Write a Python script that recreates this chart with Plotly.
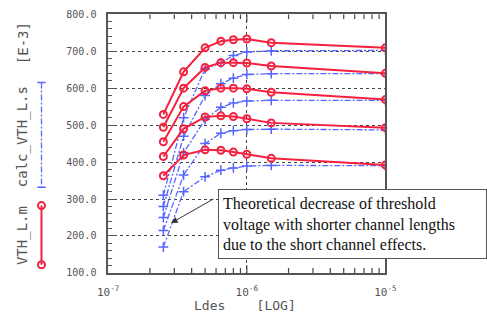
import plotly.graph_objects as go

W, H = 487, 323

# ---------------- data ----------------
L_um = [0.25, 0.35, 0.5, 0.65, 0.8, 1.0, 1.5, 10.0]
Lm = [v * 1e-6 for v in L_um]

meas_1 = [529, 644, 709, 727, 731, 733, 723, 709]
meas_2 = [494, 600, 656, 669, 669, 668, 660, 640]
meas_3 = [455, 550, 593, 600, 600, 598, 589, 569]
meas_4 = [415, 490, 522, 525, 523, 517, 506, 493]
meas_5 = [363, 419, 433, 432, 427, 421, 410, 392]

calc_1 = [310, 520, 652, 669, 688, 698, 701, 702]
calc_2 = [280, 470, 580, 612, 627, 637, 639, 639]
calc_3 = [250, 425, 515, 548, 560, 565, 567, 567]
calc_4 = [215, 365, 450, 478, 485, 488, 489, 487]
calc_5 = [170, 320, 360, 378, 384, 389, 391, 390]

meas = [meas_1, meas_2, meas_3, meas_4, meas_5]
calc = [calc_1, calc_2, calc_3, calc_4, calc_5]

y_ticks = [100, 200, 300, 400, 500, 600, 700, 800]
x_ticks = [1e-7, 1e-6, 1e-5]
x_ticktext = ["10<sup>-7</sup>", "10<sup>-6</sup>", "10<sup>-5</sup>"]
x_minor = [k * 10.0 ** e for e in (-7, -6) for k in range(2, 10)]

RED = "#f5213f"
BLUE = "#5566ff"
GRAY = "#555555"

# plot area in pixels
PX0, PX1, PY0, PY1 = 102, 393, 9.5, 276.5
Y_MIN, Y_MAX = 100, 800
UNITS_PER_PX = (Y_MAX - Y_MIN) / (PY1 - PY0)

fig = go.Figure()

# x-axis tick marks (bottom and top, pointing inward) drawn through the axes' scales
def tick_segments(vals, length_px):
    xs, ys = [], []
    d = length_px * UNITS_PER_PX
    for v in vals:
        xs += [v, v, None, v, v, None]
        ys += [Y_MIN, Y_MIN + d, None, Y_MAX, Y_MAX - d, None]
    return xs, ys

for vals, ln in [(x_minor, 5), (x_ticks[1:-1], 8)]:
    tx, ty = tick_segments(vals, ln)
    fig.add_trace(go.Scatter(x=tx, y=ty, mode="lines", line=dict(color="#444444", width=1.2),
                             hoverinfo="skip", showlegend=False))

for c in calc:
    fig.add_trace(go.Scatter(
        x=Lm, y=c, mode="lines+markers",
        line=dict(color=BLUE, width=1.3, dash="6px,2px,2px,2px"),
        marker=dict(symbol="cross-thin", size=7, line=dict(color=BLUE, width=1.5)),
        showlegend=False))

for m in meas:
    fig.add_trace(go.Scatter(
        x=Lm, y=m, mode="lines+markers",
        line=dict(color=RED, width=2),
        marker=dict(symbol="circle-open", size=7, color=RED, line=dict(width=2)),
        showlegend=False))

# legend glyphs on an auxiliary pixel-scaled axis in the left strip
fig.add_trace(go.Scatter(
    x=[32, 32], y=[207, 268], mode="lines+markers", xaxis="x2", yaxis="y2",
    line=dict(color=RED, width=2),
    marker=dict(symbol="circle-open", size=7, color=RED, line=dict(width=2)),
    showlegend=False))
fig.add_trace(go.Scatter(
    x=[32, 32], y=[80, 188], mode="lines+markers", xaxis="x2", yaxis="y2",
    line=dict(color=BLUE, width=1.3, dash="6px,2px,2px,2px"),
    marker=dict(symbol="line-ew", size=6, line=dict(color=BLUE, width=1.5)),
    showlegend=False))

mono = "DejaVu Sans Mono"
xdom = [PX0 / W, PX1 / W]

fig.update_layout(
    width=W, height=H,
    margin=dict(l=0, r=0, t=0, b=0),
    paper_bgcolor="white", plot_bgcolor="white",
    xaxis=dict(
        type="log", range=[-7, -5],
        domain=xdom,
        tickvals=x_ticks, ticktext=x_ticktext,
        ticks="", showline=True, linecolor=GRAY, linewidth=1.5, mirror=True,
        showgrid=True, gridcolor="#444444", griddash="dot", gridwidth=1,
        tickfont=dict(family=mono, size=11, color=GRAY),
        ticklabelstandoff=8,
        zeroline=False,
    ),
    yaxis=dict(
        range=[Y_MIN, Y_MAX],
        domain=[1 - PY1 / H, 1 - PY0 / H],
        tickvals=y_ticks, tickformat=".1f",
        ticks="inside", ticklen=8, tickcolor=GRAY, tickwidth=1,
        minor=dict(ticks="inside", ticklen=4, dtick=20, tickcolor=GRAY, showgrid=False),
        showline=True, linecolor=GRAY, linewidth=1.5, mirror=True,
        showgrid=True, gridcolor="#444444", griddash="dot", gridwidth=1,
        tickfont=dict(family=mono, size=10, color=GRAY),
        ticklabelstandoff=8,
        zeroline=False,
    ),
    xaxis2=dict(domain=[0, 0.1], range=[0, 0.1 * W], visible=False, anchor="y2"),
    yaxis2=dict(domain=[0, 1], range=[H, 0], visible=False, anchor="x2"),
)

annos = []
# axis titles
annos.append(dict(text="Ldes    [LOG]", xref="paper", yref="paper",
                  x=246 / W, y=1 - 310 / H, xanchor="center", yanchor="middle",
                  showarrow=False,
                  font=dict(family=mono, size=13, color=GRAY)))
for txt, yc in [("[E-3]", 39), ("calc_VTH_L.s", 136), ("VTH_L.m", 238)]:
    annos.append(dict(text=txt, xref="paper", yref="paper", x=12 / W, y=1 - yc / H,
                      xanchor="center", yanchor="middle",
                      showarrow=False, textangle=-90,
                      font=dict(family=mono, size=14, color=GRAY)))
# arrow
annos.append(dict(text="", x=-6.546, y=235, xref="x", yref="y",
                  ax=44, ay=-25, axref="pixel", ayref="pixel",
                  showarrow=True, arrowhead=2, arrowsize=1.3, arrowwidth=1,
                  arrowcolor="#333333"))
# text box
annos.append(dict(
    text="Theoretical decrease of threshold<br>voltage with shorter channel lengths<br>due to the short channel effects.",
    xref="paper", yref="paper", x=217 / W, y=1 - 190 / H,
    xanchor="left", yanchor="top", align="left", valign="middle", showarrow=False,
    font=dict(family="Liberation Serif", size=16, color="#111111"),
    bgcolor="white", bordercolor=GRAY, borderwidth=1, borderpad=4,
    width=259, height=60))
fig.update_layout(annotations=annos)

fig.write_html("out.html")
